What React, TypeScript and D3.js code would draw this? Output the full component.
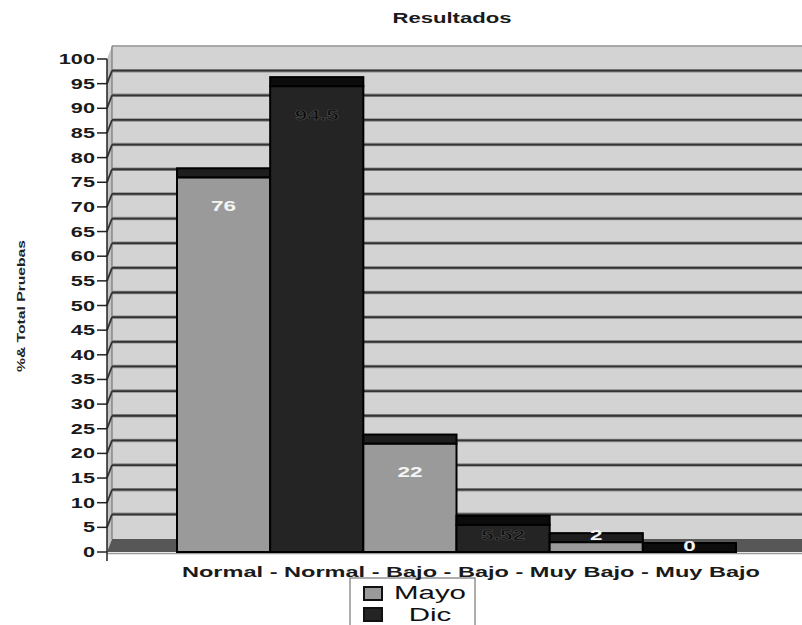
import React from 'react';
import * as d3 from 'd3';

const title = 'Resultados';
const yTitle = '%& Total Pruebas';
const groups = ['Normal', 'Bajo', 'Muy Bajo'];
const seriesNames = ['Mayo', 'Dic'];
const mayoValues = [76, 22, 2];
const dicValues = [94.5, 5.52, 0];
const xLabels = ['Normal -', 'Normal -', 'Bajo -', 'Bajo -', 'Muy Bajo -', 'Muy Bajo'];
const yTicks = [0, 5, 10, 15, 20, 25, 30, 35, 40, 45, 50, 55, 60, 65, 70, 75, 80, 85, 90, 95, 100];

const W = 802;
const H = 625;
const FONT = 'Liberation Sans, Arial, sans-serif';
const DEPTH = 13;
const WALL = 5;
const CAP = 9;

const faceColor: Record<string, string> = { Mayo: '#9a9a9a', Dic: '#242424' };
const capColor: Record<string, string> = { Mayo: '#1e1e1e', Dic: '#0c0c0c' };

function SText(props: any) {
  const { x, y, sx = 1, children, ...rest } = props;
  return (
    <text transform={`translate(${x},${y}) scale(${sx},1)`} fontFamily={FONT} {...rest}>
      {children}
    </text>
  );
}

export default function App() {
  const y = d3.scaleLinear().domain([0, 100]).range([552, 59]);
  const x0 = d3.scaleBand().domain(groups).range([177, 736]).padding(0);
  const x1 = d3.scaleBand().domain(seriesNames).range([0, x0.bandwidth()]).padding(0);
  const axisX = 107;
  const backX = axisX + WALL;
  const right = W;

  const bars = groups.flatMap((g, i) => [
    { g, s: 'Mayo', v: mayoValues[i] },
    { g, s: 'Dic', v: dicValues[i] },
  ]);

  const gridVals = yTicks.filter((t) => t > 0 && t < 100);

  return (
    <svg width={W} height={H} style={{ position: 'absolute', left: 0, top: 0, background: '#fff' }}>
      <rect x={0} y={0} width={W} height={H} fill="#fff" />
      <SText x={452} y={23} sx={1.58} textAnchor="middle" fontSize={14} fontWeight="bold" fill="#1a1a1a">
        {title}
      </SText>

      {/* back wall */}
      <rect x={backX} y={y(100) - DEPTH} width={right - backX} height={y(0) - y(100)} fill="#d3d3d3" />
      <line x1={backX} x2={right} y1={y(100) - DEPTH} y2={y(100) - DEPTH} stroke="#a8a8a8" strokeWidth={2} />

      {/* left wall */}
      <polygon
        points={`${axisX},${y(100)} ${backX},${y(100) - DEPTH} ${backX},${y(0) - DEPTH} ${axisX},${y(0)}`}
        fill="#c4c4c4"
      />
      <line x1={backX} x2={backX} y1={y(100) - DEPTH} y2={y(0) - DEPTH} stroke="#666" strokeWidth={1} />

      {/* gridlines */}
      {gridVals.map((t) => (
        <g key={t}>
          <line x1={backX} x2={right} y1={y(t) - DEPTH} y2={y(t) - DEPTH} stroke="#8c8c8c" strokeWidth={3.5} />
          <line x1={backX} x2={right} y1={y(t) - DEPTH} y2={y(t) - DEPTH} stroke="#333" strokeWidth={1.8} />
          <line x1={axisX} x2={backX} y1={y(t)} y2={y(t) - DEPTH} stroke="#333" strokeWidth={1.8} />
        </g>
      ))}

      {/* floor */}
      <polygon
        points={`${axisX},${y(0)} ${backX},${y(0) - DEPTH} ${right},${y(0) - DEPTH} ${right},${y(0)}`}
        fill="#575757"
      />
      <line x1={axisX} x2={right} y1={y(0) + 1.5} y2={y(0) + 1.5} stroke="#9a9a9a" strokeWidth={1.5} />

      {/* bars */}
      {bars.map((b) => {
        const bx = (x0(b.g) as number) + (x1(b.s) as number);
        const bw = x1.bandwidth();
        const top = y(b.v);
        return (
          <g key={b.g + b.s}>
            <rect x={bx} y={top} width={bw} height={y(0) - top} fill={faceColor[b.s]} stroke="#000" strokeWidth={2} />
            <rect x={bx} y={top - CAP} width={bw} height={CAP} fill={capColor[b.s]} stroke="#000" strokeWidth={2} />
          </g>
        );
      })}

      {/* data labels */}
      {bars.map((b) => {
        const bx = (x0(b.g) as number) + (x1(b.s) as number) + x1.bandwidth() / 2;
        const cy = b.v === 0 ? y(0) - 6 : Math.min(y(b.v) + 28, y(0) - 17);
        const light = b.s === 'Mayo' || b.v === 0;
        return (
          <SText
            key={'l' + b.g + b.s}
            x={bx}
            y={cy}
            sx={1.5}
            dy="0.36em"
            textAnchor="middle"
            fontSize={15}
            fontWeight="bold"
            fill={light ? '#f4f4f4' : '#0a0a0a'}
            stroke={light ? 'none' : '#4a4a4a'}
            strokeWidth={0.6}
          >
            {String(b.v)}
          </SText>
        );
      })}

      {/* y axis */}
      <line x1={axisX} x2={axisX} y1={y(100)} y2={y(0) + 9} stroke="#222" strokeWidth={1.5} />
      {yTicks.map((t) => (
        <g key={'t' + t}>
          <line x1={97} x2={axisX} y1={y(t)} y2={y(t)} stroke="#222" strokeWidth={1.5} />
          <SText x={95} y={y(t)} sx={1.55} dy="0.36em" textAnchor="end" fontSize={14} fontWeight="bold" fill="#1a1a1a">
            {String(t)}
          </SText>
        </g>
      ))}
      <text
        transform="translate(25,306) rotate(-90)"
        textAnchor="middle"
        fontFamily={FONT}
        fontSize={10}
        fontWeight="bold"
        fill="#222"
        textLength={132}
        lengthAdjust="spacingAndGlyphs"
      >
        {yTitle}
      </text>

      {/* legend */}
      <rect x={350} y={578} width={125} height={60} fill="#fff" stroke="#777" strokeWidth={1.2} />
      {seriesNames.map((s, i) => (
        <g key={'lg' + s}>
          <rect x={364} y={587 + i * 21} width={18} height={13} fill={faceColor[s]} stroke="#111" strokeWidth={2} />
          <SText x={430} y={599 + i * 22} sx={1.55} textAnchor="middle" fontSize={19} fill="#111">
            {s}
          </SText>
        </g>
      ))}

      {/* x labels */}
      <text
        x={182}
        y={577}
        fontFamily={FONT}
        fontSize={15}
        fontWeight="bold"
        fill="#1a1a1a"
        textLength={578}
        lengthAdjust="spacingAndGlyphs"
      >
        {xLabels.join(' ')}
      </text>
    </svg>
  );
}
